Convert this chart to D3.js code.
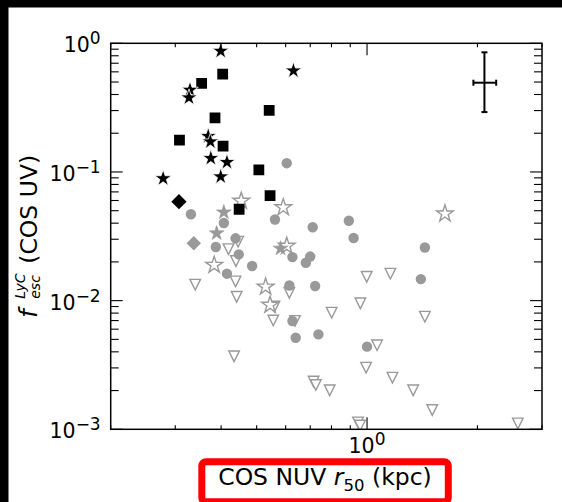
<!DOCTYPE html>
<html>
<head>
<meta charset="utf-8">
<script src="https://cdn.jsdelivr.net/npm/d3@7"></script>
<style>
  html, body { margin: 0; padding: 0; background: #000; }
  svg { display: block; }
</style>
</head>
<body>
<div id="chart"></div>
<script>
// [COS NUV r50 (kpc), f_esc LyC] per group
const blackStars = [[0.399, 0.871], [0.630, 0.612], [0.329, 0.434], [0.327, 0.378], [0.369, 0.190],
  [0.374, 0.172], [0.375, 0.128], [0.415, 0.119], [0.399, 0.092], [0.278, 0.089]];
const blackSquares = [[0.404, 0.577], [0.354, 0.489], [0.541, 0.301], [0.385, 0.263], [0.308, 0.177],
  [0.405, 0.159], [0.507, 0.104], [0.544, 0.0654], [0.448, 0.0513]];
const blackDiamonds = [[0.307, 0.0587]];
const grayCircles = [[0.604, 0.117], [0.331, 0.0469], [0.407, 0.0401], [0.387, 0.0261], [0.438, 0.0305],
  [0.447, 0.0229], [0.415, 0.0162], [0.486, 0.0186], [0.561, 0.0427], [0.626, 0.0218], [0.614, 0.0131],
  [0.711, 0.0372], [0.892, 0.0418], [0.919, 0.0307], [0.700, 0.0220], [0.681, 0.0197], [0.722, 0.0130],
  [0.626, 0.00695], [0.639, 0.00515], [0.737, 0.00547], [1.000, 0.00439], [1.438, 0.0259], [1.402, 0.0147]];
const grayStars = [[0.407, 0.0486], [0.389, 0.0334], [0.581, 0.0254]];
const grayDiamonds = [[0.337, 0.0279]];
const openStars = [[0.454, 0.0595], [0.591, 0.0530], [0.383, 0.0189], [0.529, 0.0128], [0.544, 0.00925],
  [0.604, 0.0266], [1.631, 0.0474]];
const openTriangles = [[0.419, 0.0251], [0.445, 0.0287], [0.439, 0.0203], [0.340, 0.0133], [0.438, 0.0141],
  [0.441, 0.0107], [0.434, 0.00369], [0.559, 0.0090], [0.555, 0.00701], [0.614, 0.0115], [0.636, 0.00695],
  [0.801, 0.00806], [0.959, 0.00953], [0.998, 0.0153], [1.158, 0.0162], [1.438, 0.0075], [1.065, 0.0045],
  [0.994, 0.00301], [1.173, 0.00252], [1.336, 0.00201], [0.715, 0.00235], [0.725, 0.00221], [0.791, 0.00201],
  [1.506, 0.00141], [0.945, 0.00113], [0.957, 0.00107], [2.578, 0.00111]];

// typical error bar drawn in the corner
const errBar = { x: 2.09, y: 0.494, xlo: 1.95, xhi: 2.25, ylo: 0.292, yhi: 0.851 };

const xDomain = [0.2, 3];
const yDomain = [1e-3, 1];
const yMajor = [1e-3, 1e-2, 1e-1, 1];
const yLabels = ["\u22123", "\u22122", "\u22121", "0"];
const xMajor = [1];
const xLabels = ["0"];

const W = 562, H = 502;
const mLeft = 110.7, mRight = 542, mTop = 43.3, mBottom = 429.3;
const font = "DejaVu Sans";
const gray = "#999999";

let svg = d3.select("#chart").append("svg")
  .attr("width", W)
  .attr("height", H);

// black band top/left like the screenshot, white page
svg.append("rect").attr("width", W).attr("height", H).attr("fill", "#000");
svg.append("rect").attr("x", 8.5).attr("y", 7.5)
  .attr("width", W - 8.5).attr("height", H - 7.5).attr("fill", "#fff");

let x = d3.scaleLog().domain(xDomain).range([mLeft, mRight]);
let y = d3.scaleLog().domain(yDomain).range([mBottom, mTop]);

// minor ticks: 2..9 of each decade
function minors(domain) {
  let out = [];
  for (let e = -4; e <= 1; e++) {
    for (let m = 2; m <= 9; m++) {
      let v = m * Math.pow(10, e);
      if (v >= domain[0] * 0.999 && v <= domain[1] * 1.001) out.push(v);
    }
  }
  return out;
}

let plot = svg.append("g").attr("class", "plot");

// markers: open ones first, then gray filled, then black
svg.append("clipPath").attr("id", "clip")
  .append("rect").attr("x", mLeft).attr("y", mTop).attr("width", mRight - mLeft).attr("height", mBottom - mTop);
let marks = plot.append("g").attr("clip-path", "url(#clip)");

function tri(h) {
  return "M0," + h + "L" + (-h) + "," + (-h) + "L" + h + "," + (-h) + "Z";
}
let star = r => d3.symbol(d3.symbolStar, r * r / 0.8908130915292852)();
let square = s => d3.symbol(d3.symbolSquare, s * s)();

function addMarks(data, path, fill, stroke, sw, rot) {
  marks.append("g").selectAll("path")
    .data(data)
    .enter().append("path")
    .attr("d", path)
    .attr("transform", function(d) {
      return "translate(" + x(d[0]) + "," + y(d[1]) + ")" + (rot ? " rotate(" + rot + ")" : "");
    })
    .attr("fill", fill)
    .attr("stroke", stroke)
    .attr("stroke-width", sw)
    .attr("stroke-linejoin", "miter");
}

addMarks(openTriangles, tri(5.3), "#fff", gray, 1.4);
addMarks(openStars, star(8.8), "#fff", gray, 1.4);
marks.append("g").selectAll("circle")
  .data(grayCircles)
  .enter().append("circle")
  .attr("cx", d => x(d[0]))
  .attr("cy", d => y(d[1]))
  .attr("r", 5.2)
  .attr("fill", gray);
addMarks(grayStars, star(7.8), gray, gray, 0.6);
addMarks(grayDiamonds, square(10.2), gray, "none", 0, 45);
addMarks(blackSquares, square(10.8), "#000", "none", 0);
addMarks(blackDiamonds, square(10.8), "#000", "none", 0, 45);
addMarks(blackStars, star(8.8), "#000", "#fff", 0.8);

// error bar
let eb = plot.append("g").attr("stroke", "#000").attr("stroke-width", 2);
eb.append("line").attr("x1", x(errBar.x)).attr("x2", x(errBar.x)).attr("y1", y(errBar.yhi)).attr("y2", y(errBar.ylo));
eb.append("line").attr("x1", x(errBar.xlo)).attr("x2", x(errBar.xhi)).attr("y1", y(errBar.y)).attr("y2", y(errBar.y));
[errBar.yhi, errBar.ylo].forEach(function(v) {
  eb.append("line").attr("x1", x(errBar.x) - 3).attr("x2", x(errBar.x) + 3).attr("y1", y(v)).attr("y2", y(v));
});
[errBar.xlo, errBar.xhi].forEach(function(v) {
  eb.append("line").attr("x1", x(v)).attr("x2", x(v)).attr("y1", y(errBar.y) - 3).attr("y2", y(errBar.y) + 3);
});

// ticks, pointing inwards on all four sides
let ticks = plot.append("g").attr("stroke", "#000").attr("stroke-width", 1.1);
function yTick(v, len) {
  ticks.append("line").attr("x1", mLeft).attr("x2", mLeft + len).attr("y1", y(v)).attr("y2", y(v));
  ticks.append("line").attr("x1", mRight).attr("x2", mRight - len).attr("y1", y(v)).attr("y2", y(v));
}
function xTick(v, len) {
  ticks.append("line").attr("y1", mBottom).attr("y2", mBottom - len).attr("x1", x(v)).attr("x2", x(v));
  ticks.append("line").attr("y1", mTop).attr("y2", mTop + len).attr("x1", x(v)).attr("x2", x(v));
}
yMajor.forEach(v => yTick(v, 12));
minors(yDomain).forEach(v => yTick(v, 8));
xMajor.forEach(v => xTick(v, 12));
minors(xDomain).forEach(v => xTick(v, 4));

plot.append("rect")
  .attr("x", mLeft).attr("y", mTop)
  .attr("width", mRight - mLeft).attr("height", mBottom - mTop)
  .attr("fill", "none").attr("stroke", "#000").attr("stroke-width", 1.5);

// tick labels  10^n
let yl = plot.append("g").attr("font-family", font).attr("font-size", 20.5).attr("fill", "#000");
yMajor.forEach(function(v, i) {
  let t = yl.append("text")
    .attr("x", mLeft - 10)
    .attr("y", y(v) + 9)
    .attr("text-anchor", "end");
  t.append("tspan").text("10");
  t.append("tspan").attr("dy", -8).attr("font-size", 17).text(yLabels[i]);
});
xMajor.forEach(function(v, i) {
  let t = yl.append("text")
    .attr("x", x(v))
    .attr("y", mBottom + 24)
    .attr("text-anchor", "middle");
  t.append("tspan").text("10");
  t.append("tspan").attr("dy", -8).attr("font-size", 17).text(xLabels[i]);
});

// x axis title in a red box
svg.append("rect")
  .attr("x", 201.8).attr("y", 461.8)
  .attr("width", 246.5).attr("height", 40)
  .attr("rx", 4)
  .attr("fill", "#fff").attr("stroke", "#ff0000").attr("stroke-width", 7);
let xt = svg.append("text")
  .attr("x", 325)
  .attr("y", 485)
  .attr("text-anchor", "middle")
  .attr("font-family", font)
  .attr("font-size", 23.5);
xt.append("tspan").text("COS NUV ");
xt.append("tspan").attr("font-style", "italic").text("r");
xt.append("tspan").attr("dy", 6).attr("font-size", 16.5).text("50");
xt.append("tspan").attr("dy", -6).text(" (kpc)");

// y axis title: f with stacked sub/superscript
let yt = svg.append("g").attr("font-family", font).attr("fill", "#000");
yt.append("text").attr("font-size", 24).attr("font-style", "italic").text("f");
yt.append("text").attr("font-size", 14).attr("font-style", "italic")
  .attr("x", 19).attr("y", 3).text("esc");
yt.append("text").attr("font-size", 14).attr("font-style", "italic")
  .attr("x", 19).attr("y", -12).text("LyC");
let tr = yt.append("text").attr("font-size", 23.5).attr("x", 54).text("(COS UV)");
let total = 54 + tr.node().getComputedTextLength();
yt.attr("transform", "translate(37," + ((mTop + mBottom) / 2) + ") rotate(-90) translate(" + (-total / 2) + ",0)");
</script>
</body>
</html>
